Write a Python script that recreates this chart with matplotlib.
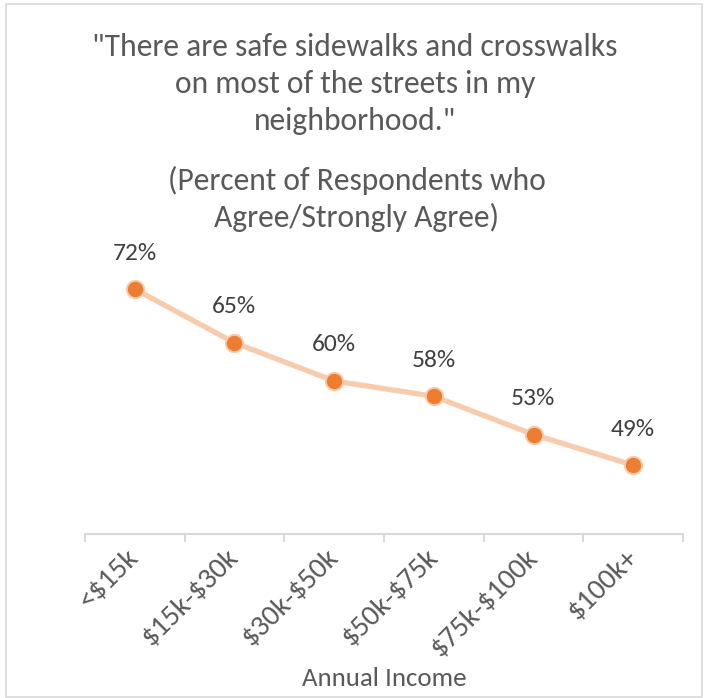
import matplotlib
matplotlib.use("Agg")
import matplotlib.pyplot as plt
from matplotlib.patches import Rectangle
from matplotlib.transforms import ScaledTranslation
from matplotlib import font_manager

categories = ["<$15k", "$15k-$30k", "$30k-$50k", "$50k-$75k", "$75k-$100k", "$100k+"]
values = [0.72, 0.65, 0.60, 0.58, 0.53, 0.49]
labels = ["72%", "65%", "60%", "58%", "53%", "49%"]
title_lines = ['"There are safe sidewalks and crosswalks', 'on most of the streets in my', 'neighborhood."']
sub_lines = ['(Percent of Respondents who', 'Agree/Strongly Agree)']
xlabel = "Annual Income"

available = {f.name for f in font_manager.fontManager.ttflist}
main_font = 'Carlito' if 'Carlito' in available else 'Lato'
plt.rcParams['font.family'] = [main_font, 'DejaVu Sans']

W, H = 704, 698
fig = plt.figure(figsize=(W / 100, H / 100), dpi=100)
fig.patch.set_facecolor('white')
renderer = fig.canvas.get_renderer()


def fit_size(text, target_px):
    t = fig.text(0, 0, text, fontsize=10, parse_math=False)
    w = t.get_window_extent(renderer).width
    t.remove()
    return 10 * target_px / w


title_fs = fit_size(title_lines[0], 527)
label_fs = fit_size("72%", 44)
xlabel_fs = fit_size(xlabel, 165)
tick_fs = fit_size(categories[0], 73)

# outer border
fig.add_artist(Rectangle((6 / W, 1 / H), (702 - 6) / W, (694 - 1) / H, transform=fig.transFigure,
                         fill=False, edgecolor='#d9d9d9', linewidth=1.2))

ax = fig.add_axes([85 / W, (H - 534) / H, (683 - 85) / W, (534 - 228) / H])
x = list(range(len(categories)))
ax.plot(x, values, color='#f8cbad', linewidth=3.8, zorder=2, solid_capstyle='round')
ax.plot(x, values, linestyle='none', marker='o', markersize=12.5, markerfacecolor='#ed7d31',
        markeredgecolor='#f8cbad', markeredgewidth=1.4, zorder=3)
for xi, v, lab in zip(x, values, labels):
    ax.annotate(lab, (xi, v), xytext=(0, 26), textcoords='offset points', ha='center', va='center',
                fontsize=label_fs, color='#404040', parse_math=False)

ax.set_xlim(-0.5, len(categories) - 0.5)
ax.set_ylim(0.40, 0.80)
for s in ['top', 'right', 'left']:
    ax.spines[s].set_visible(False)
ax.spines['bottom'].set_color('#d9d9d9')
ax.spines['bottom'].set_linewidth(1.5)
ax.set_yticks([])
ax.set_xticks([i - 0.5 for i in range(len(categories) + 1)])
ax.set_xticklabels([])
ax.tick_params(axis='x', which='major', length=6, width=1.5, color='#d9d9d9')
ax.set_xticks(x, minor=True)
ax.set_xticklabels(categories, minor=True, rotation=45, ha='right', va='center', rotation_mode='anchor',
                   fontsize=tick_fs, color='#595959')
for t in ax.get_xticklabels(minor=True):
    t.set_parse_math(False)
    t.set_transform(t.get_transform() + ScaledTranslation(6 / 72, 1 / 72, fig.dpi_scale_trans))
ax.tick_params(axis='x', which='minor', length=0, pad=14)

fig.text(384 / W, 1 - 679 / H, xlabel, ha='center', va='center', fontsize=xlabel_fs, color='#595959')

title_y = [47, 84, 121]
for t, yy in zip(title_lines, title_y):
    fig.text(355 / W, 1 - yy / H, t, ha='center', va='center', fontsize=title_fs, color='#595959',
             parse_math=False)
sub_y = [180, 217]
for t, yy in zip(sub_lines, sub_y):
    fig.text(357 / W, 1 - yy / H, t, ha='center', va='center', fontsize=title_fs, color='#595959',
             parse_math=False)

fig.savefig('out.png', dpi=100)
